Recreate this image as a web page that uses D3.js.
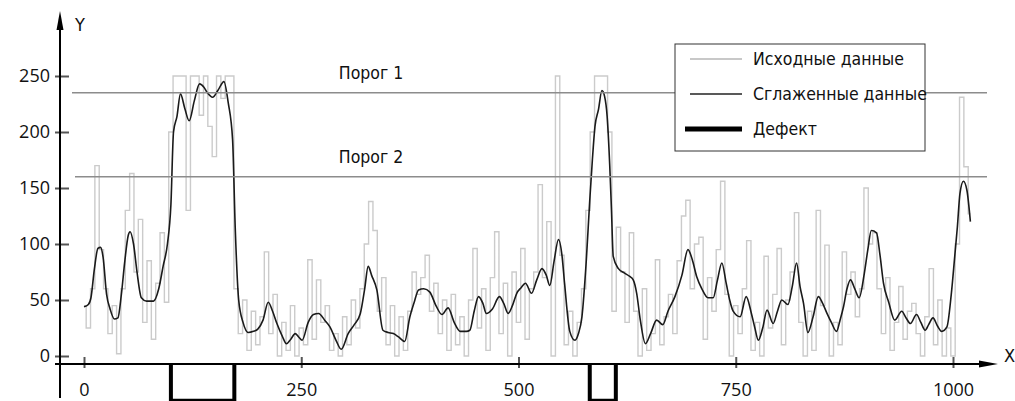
<!DOCTYPE html>
<html>
<head>
<meta charset="utf-8">
<script src="https://cdn.jsdelivr.net/npm/d3@7"></script>
<style>
	body { margin: 0; background: #fff; }
	svg { display: block; }
	.lbl { font-family: "DejaVu Sans Condensed", "Liberation Sans Narrow", "DejaVu Sans", sans-serif; font-stretch: condensed; fill: #111; }
	.tick text { font-family: "Open Sans", "DejaVu Sans", sans-serif; font-size: 18px; fill: #111; }
</style>
</head>
<body>
<div id="chart"></div>
<script>
// raw signal, one reading every 5 units starting at 0
var rawStep = 5;
var rawValues = [
	45, 25, 60, 170, 95, 60, 20, 45, 2, 60, 130, 163, 75, 122, 30, 85, 15, 65, 110, 48,
	200, 250, 250, 250, 130, 250, 250, 215, 250, 205, 178, 250, 230, 250, 250, 60,
	20, 50, 5, 40, 10, 35, 93, 20, 55, 0, 30, 5, 45, 0, 25, 10, 86, 15, 68, 30,
	45, 5, 20, 0, 35, 10, 50, 25, 60, 100, 138, 112, 40, 70, 10, 45, 0, 35, 5, 40,
	75, 55, 70, 90, 40, 65, 20, 50, 5, 55, 10, 35, 0, 50, 96, 25, 60, 5, 70, 111,
	20, 65, 0, 75, 30, 96, 15, 60, 75, 153, 70, 120, 0, 250, 90, 10, 40, 0, 30, 60,
	130, 200, 250, 250, 250, 200, 40, 115, 75, 30, 110, 40, 0, 60, 5, 20, 86, 10, 35, 55,
	20, 85, 125, 139, 60, 100, 106, 15, 70, 40, 95, 156, 55, 0, 45, 20, 60, 103, 5, 30,
	0, 89, 25, 55, 96, 10, 50, 75, 128, 30, 0, 40, 5, 130, 45, 99, 0, 30, 10, 93,
	55, 75, 35, 60, 150, 100, 110, 60, 20, 70, 5, 30, 62, 15, 40, 47, 20, 0, 35, 78,
	10, 50, 0, 25, 0, 100, 231, 169, 127
];

// smoothed curve
var smoothX = [0, 5, 8, 12, 16, 19, 22, 26, 30, 35, 39, 43, 47, 51, 53, 57, 61, 66, 72, 80,
	86, 91, 96, 100, 103, 107, 111, 116, 121, 127, 133, 138, 142, 148, 154, 161, 166, 171, 174, 178,
	183, 189, 195, 200, 206, 212, 217, 222, 228, 233, 238, 243, 247, 251, 258, 264, 270, 277, 283, 290,
	296, 304, 311, 318, 323, 327, 331, 337, 344, 350, 356, 362, 369, 375, 380, 385, 391, 398, 405, 412,
	419, 426, 433, 440, 444, 449, 454, 459, 463, 470, 478, 483, 488, 493, 498, 503, 508, 515, 521, 527,
	532, 536, 541, 546, 550, 553, 559, 565, 569, 573, 578, 582, 585, 588, 592, 596, 599, 602, 605, 607,
	609, 615, 622, 628, 632, 636, 640, 646, 652, 659, 666, 672, 680, 688, 695, 700, 705, 711, 718, 724,
	729, 734, 739, 743, 747, 755, 762, 768, 772, 776, 781, 786, 793, 798, 803, 810, 815, 820, 824, 828,
	833, 839, 845, 850, 855, 860, 866, 870, 874, 878, 882, 887, 892, 898, 902, 906, 912, 916, 920, 926,
	933, 941, 946, 951, 958, 963, 968, 972, 977, 982, 987, 993, 998, 1002, 1005, 1008, 1012, 1016, 1020];
var smoothY = [44, 46, 52, 78, 96, 97, 88, 55, 42, 33, 34, 55, 85, 108, 111, 100, 75, 52, 49, 49,
	60, 80, 100, 135, 200, 214, 234, 221, 210, 228, 243, 240, 235, 231, 237, 245, 226, 193, 115, 50,
	30, 21, 22, 24, 32, 48, 40, 29, 18, 11, 15, 20, 17, 14, 30, 37, 38, 32, 26, 14,
	6, 20, 28, 38, 60, 80, 72, 59, 23, 21, 20, 17, 13, 35, 48, 59, 60, 57, 45, 37,
	43, 30, 22, 22, 23, 40, 53, 47, 38, 42, 53, 47, 38, 45, 56, 61, 65, 56, 68, 78,
	72, 63, 85, 104, 90, 65, 22, 14, 20, 35, 85, 139, 175, 205, 220, 237, 232, 214, 170, 130,
	89, 78, 74, 71, 68, 56, 33, 11, 20, 32, 28, 40, 53, 72, 95, 86, 71, 60, 52, 52,
	68, 83, 65, 50, 40, 35, 53, 38, 25, 14, 25, 41, 29, 40, 50, 46, 62, 83, 62, 47,
	21, 35, 53, 47, 38, 30, 22, 32, 44, 60, 68, 60, 52, 74, 95, 112, 110, 90, 65, 48,
	32, 40, 34, 29, 37, 30, 23, 28, 34, 27, 22, 26, 55, 89, 115, 145, 156, 148, 120];

// thresholds
var thresholdNames = ["Порог 1", "Порог 2"];
var thresholdValues = [235, 160];

// defect zones (start, end)
var defectStart = [100, 582];
var defectEnd = [173, 612];
var defectLevel = -40;

var xTicks = [0, 250, 500, 750, 1000];
var yTicks = [0, 50, 100, 150, 200, 250];

var legendNames = ["Исходные данные", "Сглаженные данные", "Дефект"];

var width = 1015, height = 401;
var svg = d3.select("#chart").append("svg")
	.attr("width", width)
	.attr("height", height);

var x = d3.scaleLinear().domain([0, 1000]).range([84, 953]);
var y = d3.scaleLinear().domain([0, 250]).range([356, 76]);

var axisX = 60, axisY = 364;

// raw data
var rawLine = d3.line()
	.x(function(d, i) { return x(i * rawStep); })
	.y(function(d) { return y(d); })
	.curve(d3.curveStep);

svg.append("path")
	.datum(rawValues)
	.attr("d", rawLine)
	.attr("fill", "none")
	.attr("stroke", "#cbcbcb")
	.attr("stroke-width", 1.4);

// smoothed data
var smoothLine = d3.line()
	.x(function(d) { return x(d); })
	.y(function(d, i) { return y(smoothY[i]); })
	.curve(d3.curveMonotoneX);

svg.append("path")
	.datum(smoothX)
	.attr("d", smoothLine)
	.attr("fill", "none")
	.attr("stroke", "#1a1a1a")
	.attr("stroke-width", 1.6);

// thresholds
svg.selectAll(".threshold")
	.data(thresholdValues)
	.enter()
	.append("line")
	.attr("class", "threshold")
	.attr("x1", function(d, i) { return i === 0 ? 72 : 75; })
	.attr("x2", 987)
	.attr("y1", function(d) { return y(d); })
	.attr("y2", function(d) { return y(d); })
	.attr("stroke", "#8c8c8c")
	.attr("stroke-width", 1.6);

svg.selectAll(".thresholdLabel")
	.data(thresholdValues)
	.enter()
	.append("text")
	.attr("class", "lbl thresholdLabel")
	.attr("x", 371)
	.attr("y", function(d) { return y(d) - 14; })
	.attr("text-anchor", "middle")
	.style("font-size", "17.5px")
	.text(function(d, i) { return thresholdNames[i]; });

// defects
svg.selectAll(".defect")
	.data(defectStart)
	.enter()
	.append("path")
	.attr("class", "defect")
	.attr("d", function(d, i) {
		var x1 = x(d), x2 = x(defectEnd[i]), yb = y(defectLevel);
		return "M" + x1 + "," + axisY + "V" + yb + "H" + x2 + "V" + axisY;
	})
	.attr("fill", "none")
	.attr("stroke", "#000")
	.attr("stroke-width", 4);

// axes
var yAxis = d3.axisLeft(y).tickValues(yTicks).tickSize(14).tickPadding(5);
var gy = svg.append("g")
	.attr("transform", "translate(69,0)")
	.call(yAxis);
gy.select(".domain").remove();
gy.selectAll(".tick line").attr("stroke", "#555").attr("stroke-width", 2);

var xAxis = d3.axisBottom(x).tickValues(xTicks).tickFormat(d3.format("d")).tickSize(11).tickPadding(15);
var gx = svg.append("g")
	.attr("transform", "translate(0,357)")
	.call(xAxis);
gx.select(".domain").remove();
gx.selectAll(".tick line").attr("stroke", "#555").attr("stroke-width", 2);

svg.append("line")
	.attr("x1", axisX).attr("x2", axisX)
	.attr("y1", 18).attr("y2", 398)
	.attr("stroke", "#000").attr("stroke-width", 2);
svg.append("path")
	.attr("d", "M" + axisX + ",11L" + (axisX - 3.5) + ",30L" + (axisX + 3.5) + ",30Z")
	.attr("fill", "#000");

svg.append("line")
	.attr("x1", 55).attr("x2", 990)
	.attr("y1", axisY).attr("y2", axisY)
	.attr("stroke", "#000").attr("stroke-width", 2);
svg.append("path")
	.attr("d", "M998," + axisY + "L979," + (axisY - 3.5) + "L979," + (axisY + 3.5) + "Z")
	.attr("fill", "#000");

svg.append("text").attr("class", "lbl").attr("x", 75).attr("y", 31)
	.style("font-size", "18px").text("Y");
svg.append("text").attr("class", "lbl").attr("x", 1004).attr("y", 362)
	.style("font-size", "18px").text("X");

// legend
var legend = svg.append("g").attr("transform", "translate(675,44)");
legend.append("rect")
	.attr("width", 250).attr("height", 107)
	.attr("fill", "#fff").attr("stroke", "#333").attr("stroke-width", 1);

var legendStroke = ["#c8c8c8", "#222", "#000"];
var legendWidth = [2, 1.5, 5];
var legendStartX = [15, 15, 10];

var items = legend.selectAll(".item")
	.data(legendNames)
	.enter()
	.append("g")
	.attr("class", "item")
	.attr("transform", function(d, i) { return "translate(0," + (15 + i * 35) + ")"; });

items.append("line")
	.attr("x1", function(d, i) { return legendStartX[i]; })
	.attr("x2", 67)
	.attr("stroke", function(d, i) { return legendStroke[i]; })
	.attr("stroke-width", function(d, i) { return legendWidth[i]; });

items.append("text")
	.attr("class", "lbl")
	.attr("x", 78)
	.attr("y", 6)
	.style("font-size", "17.5px")
	.text(function(d) { return d; });
</script>
</body>
</html>
